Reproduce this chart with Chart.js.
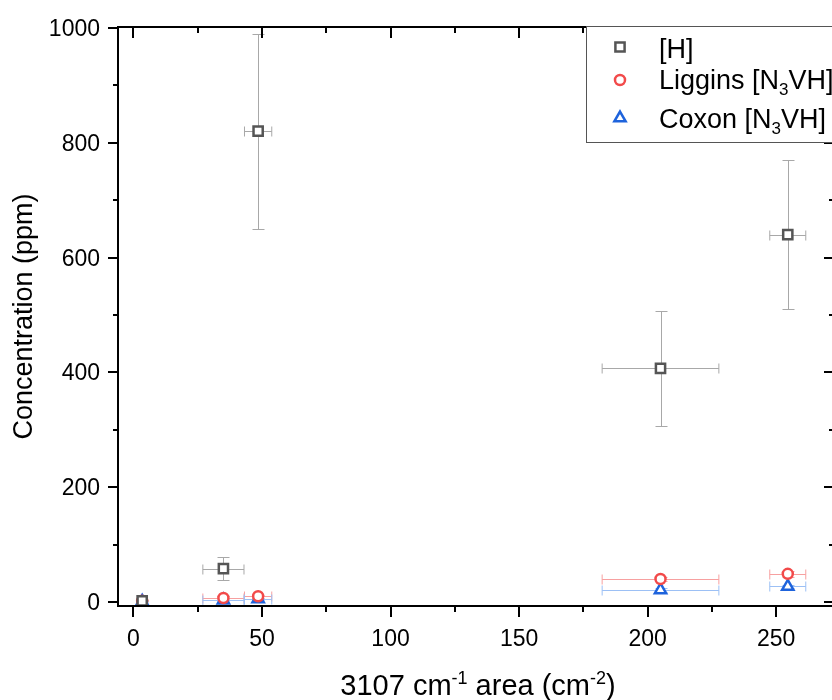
<!DOCTYPE html>
<html>
<head>
<meta charset="utf-8">
<script src="https://cdn.jsdelivr.net/npm/chart.js@4/dist/chart.umd.min.js"></script>
<style>
html, body { margin: 0; padding: 0; background: #fff; overflow: hidden; }
canvas { display: block; }
</style>
</head>
<body>
<canvas id="concChart" width="832" height="700"></canvas>
<script>
// values
const area = [3.4, 35, 48.5, 205, 254.5]
const areaErr = [1, 8, 5.3, 22.7, 7]
const hConc = [2, 58, 820, 407, 640]
const hErr = [1, 20, 170, 100, 130]
const ligginsConc = [2, 7, 10, 40, 49]
const ligginsErr = [1, 3, 3, 4, 5]
const coxonConc = [1, 3, 5, 21, 27]
const coxonErr = [1, 2, 2, 3, 3]

const xTicks = [0, 50, 100, 150, 200, 250]
const xMinor = [25, 75, 125, 175, 225]
const yTicks = [0, 200, 400, 600, 800, 1000]
const yMinor = [100, 300, 500, 700, 900]

const FONT = '"Liberation Sans", Arial, sans-serif'

function pts(ys, yerr) {
    return area.map((x, i) => ({ x: x, y: ys[i], ex: areaErr[i], ey: yerr[i] }))
}

// text with sub/superscripts: parts = [[text, 'sup'|'sub'|undefined], ...]
function richWidth(ctx, parts, size) {
    let w = 0
    parts.forEach(p => {
        ctx.font = (p[1] ? Math.round(size * 0.62) : size) + 'px ' + FONT
        w += ctx.measureText(p[0]).width
    })
    return w
}
function drawRich(ctx, parts, x, y, size) {
    parts.forEach(p => {
        const s = p[1] ? Math.round(size * 0.62) : size
        ctx.font = s + 'px ' + FONT
        let dy = 0
        if (p[1] === 'sup') dy = -size * 0.38
        if (p[1] === 'sub') dy = size * 0.24
        ctx.fillText(p[0], x, y + dy)
        x += ctx.measureText(p[0]).width
    })
}

const errBars = {
    id: 'errBars',
    beforeDatasetsDraw(chart) {
        const { ctx, scales: { x, y } } = chart
        chart.data.datasets.forEach(ds => {
            ctx.save()
            ctx.strokeStyle = ds.errColor
            ctx.lineWidth = 1
            ds.data.forEach(p => {
                const px = Math.round(x.getPixelForValue(p.x)) + 0.5
                const py = Math.round(y.getPixelForValue(p.y)) + 0.5
                const x1 = x.getPixelForValue(p.x - p.ex), x2 = x.getPixelForValue(p.x + p.ex)
                const y1 = Math.round(y.getPixelForValue(p.y + p.ey)) + 0.5
                const y2 = Math.round(y.getPixelForValue(p.y - p.ey)) + 0.5
                ctx.beginPath()
                ctx.moveTo(x1, py); ctx.lineTo(x2, py)
                ctx.moveTo(x1, py - 5); ctx.lineTo(x1, py + 5)
                ctx.moveTo(x2, py - 5); ctx.lineTo(x2, py + 5)
                ctx.moveTo(px, y1); ctx.lineTo(px, y2)
                ctx.moveTo(px - 6, y1); ctx.lineTo(px + 6, y1)
                ctx.moveTo(px - 6, y2); ctx.lineTo(px + 6, y2)
                ctx.stroke()
            })
            ctx.restore()
        })
    }
}

const frame = {
    id: 'frame',
    afterDraw(chart) {
        const { ctx, chartArea: a, scales: { x, y } } = chart
        const right = a.right + 2  // right spine sits just past the window edge
        ctx.save()
        ctx.strokeStyle = '#000'
        ctx.lineWidth = 2
        ctx.beginPath()
        ctx.moveTo(right, a.top); ctx.lineTo(a.left, a.top)
        ctx.lineTo(a.left, a.bottom); ctx.lineTo(right, a.bottom)
        ctx.stroke()

        ctx.beginPath()
        const xt = (v, len) => {
            const p = Math.round(x.getPixelForValue(v))
            ctx.moveTo(p, a.bottom); ctx.lineTo(p, a.bottom + len)
            ctx.moveTo(p, a.top); ctx.lineTo(p, a.top + len)
        }
        const yt = (v, len) => {
            const p = Math.round(y.getPixelForValue(v))
            ctx.moveTo(a.left, p); ctx.lineTo(a.left - len, p)
            ctx.moveTo(right, p); ctx.lineTo(right - len, p)
        }
        xTicks.forEach(v => xt(v, 11))
        xMinor.forEach(v => xt(v, 6))
        yTicks.forEach(v => yt(v, 10))
        yMinor.forEach(v => yt(v, 5))
        ctx.stroke()

        // tick labels
        ctx.fillStyle = '#000'
        ctx.font = '23px ' + FONT
        ctx.textAlign = 'center'
        ctx.textBaseline = 'alphabetic'
        xTicks.forEach(v => ctx.fillText(String(v), x.getPixelForValue(v), 646))
        ctx.textAlign = 'right'
        yTicks.forEach(v => ctx.fillText(String(v), 100, y.getPixelForValue(v) + 8))

        // axis titles
        ctx.textAlign = 'left'
        const xTitle = [['3107 cm'], ['-1', 'sup'], [' area (cm'], ['-2', 'sup'], [')']]
        const xw = richWidth(ctx, xTitle, 29)
        drawRich(ctx, xTitle, 478 - xw / 2, 695, 29)

        ctx.save()
        ctx.translate(32, (a.top + a.bottom) / 2)
        ctx.rotate(-Math.PI / 2)
        ctx.font = '27px ' + FONT
        ctx.textAlign = 'center'
        ctx.fillText('Concentration (ppm)', 0, 0)
        ctx.restore()

        // legend
        ctx.fillStyle = '#fff'
        ctx.fillRect(586, 26, 260, 116)
        ctx.strokeStyle = '#555'
        ctx.lineWidth = 1
        ctx.strokeRect(586.5, 26.5, 260, 116)
        const rows = [
            { ds: 0, my: 47, by: 57.5, parts: [['[H]']] },
            { ds: 1, my: 80, by: 89, parts: [['Liggins [N'], ['3', 'sub'], ['VH]']] },
            { ds: 2, my: 118, by: 127.5, parts: [['Coxon [N'], ['3', 'sub'], ['VH]']] }
        ]
        rows.forEach(r => {
            const ds = chart.data.datasets[r.ds]
            ctx.fillStyle = '#fff'
            ctx.strokeStyle = ds.borderColor
            ctx.lineWidth = ds.borderWidth
            Chart.helpers.drawPoint(ctx, {
                pointStyle: ds.pointStyle, radius: ds.pointRadius,
                borderWidth: ds.borderWidth, rotation: 0
            }, 620, r.my)
            ctx.fillStyle = '#000'
            ctx.textAlign = 'left'
            drawRich(ctx, r.parts, 659, r.by, 27)
        })
        ctx.restore()
    }
}

const ctx = document.getElementById('concChart').getContext('2d')
const concChart = new Chart(ctx, {
    type: 'scatter',
    data: {
        datasets: [
            {
                label: '[H]',
                data: pts(hConc, hErr),
                pointStyle: 'rect',
                pointRadius: 6.5,
                borderWidth: 2.5,
                borderColor: '#555555',
                backgroundColor: '#ffffff',
                errColor: '#a8a8a8'
            },
            {
                label: 'Liggins [N3VH]',
                data: pts(ligginsConc, ligginsErr),
                pointStyle: 'circle',
                pointRadius: 5,
                borderWidth: 2.5,
                borderColor: '#f24a4a',
                backgroundColor: '#ffffff',
                errColor: '#f7a0a0'
            },
            {
                label: 'Coxon [N3VH]',
                data: pts(coxonConc, coxonErr),
                pointStyle: 'triangle',
                pointRadius: 6.5,
                borderWidth: 2.5,
                borderColor: '#1e63dc',
                backgroundColor: '#ffffff',
                errColor: '#9cc0f5'
            }
        ]
    },
    options: {
        responsive: false,
        animation: false,
        layout: {
            autoPadding: false,
            padding: { left: 118, top: 27, right: 0, bottom: 94 }
        },
        plugins: {
            legend: { display: false },
            tooltip: { enabled: false }
        },
        scales: {
            x: { type: 'linear', min: -6, max: 271.7, display: false },
            y: { type: 'linear', min: -7, max: 1001.5, display: false }
        }
    },
    plugins: [errBars, frame]
})
</script>
</body>
</html>
